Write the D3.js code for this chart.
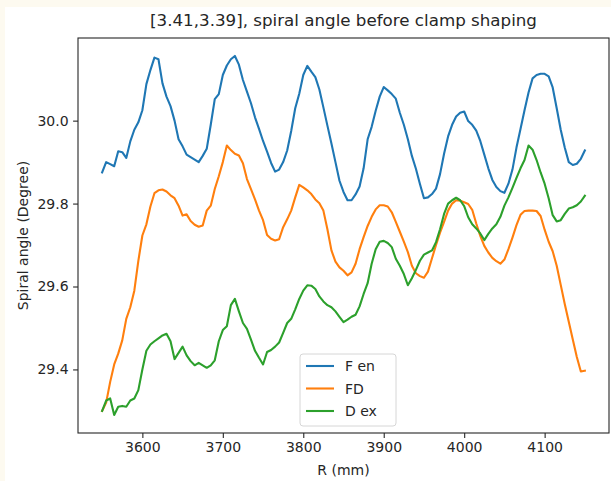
<!DOCTYPE html>
<html>
<head>
<meta charset="utf-8">
<script src="https://cdn.jsdelivr.net/npm/d3@7"></script>
<style>
  html, body { margin: 0; padding: 0; background: #fdfaf0; }
  svg { display: block; }
  text { font-family: "DejaVu Sans", sans-serif; fill: #262626; }
</style>
</head>
<body>
<svg id="chart" width="611" height="481"></svg>
<script>
// Radius positions (mm), sampled every 5 mm
const radius = [
  3550,3555,3560,3565,3570,3575,3580,3585,3590,3595,
  3600,3605,3610,3615,3620,3625,3630,3635,3640,3645,
  3650,3655,3660,3665,3670,3675,3680,3685,3690,3695,
  3700,3705,3710,3715,3720,3725,3730,3735,3740,3745,
  3750,3755,3760,3765,3770,3775,3780,3785,3790,3795,
  3800,3805,3810,3815,3820,3825,3830,3835,3840,3845,
  3850,3855,3860,3865,3870,3875,3880,3885,3890,3895,
  3900,3905,3910,3915,3920,3925,3930,3935,3940,3945,
  3950,3955,3960,3965,3970,3975,3980,3985,3990,3995,
  4000,4005,4010,4015,4020,4025,4030,4035,4040,4045,
  4050,4055,4060,4065,4070,4075,4080,4085,4090,4095,
  4100,4105,4110,4115,4120,4125,4130,4135,4140,4145,
  4150
];

// Spiral angle (degree) for each section
const fEn = [
  29.875,29.900,29.895,29.890,29.926,29.924,29.910,29.950,29.978,29.996,
  30.025,30.088,30.122,30.152,30.148,30.090,30.058,30.035,30.000,29.955,
  29.938,29.918,29.912,29.906,29.900,29.915,29.932,29.990,30.052,30.064,
  30.110,30.133,30.148,30.156,30.135,30.098,30.070,30.042,30.008,29.980,
  29.951,29.925,29.898,29.877,29.882,29.900,29.928,29.975,30.030,30.065,
  30.110,30.132,30.118,30.105,30.075,30.032,29.988,29.945,29.900,29.855,
  29.828,29.808,29.808,29.822,29.841,29.885,29.955,29.985,30.024,30.058,
  30.081,30.073,30.064,30.053,30.019,29.990,29.955,29.915,29.884,29.847,
  29.813,29.815,29.823,29.836,29.871,29.920,29.962,29.990,30.010,30.019,
  30.022,29.999,29.990,29.976,29.951,29.918,29.885,29.857,29.840,29.830,
  29.826,29.848,29.882,29.935,29.980,30.025,30.068,30.102,30.110,30.113,
  30.113,30.107,30.080,30.030,29.978,29.935,29.900,29.893,29.896,29.908,
  29.928
];

const fd = [
  29.300,29.320,29.370,29.412,29.438,29.470,29.522,29.550,29.590,29.662,
  29.723,29.750,29.793,29.825,29.832,29.834,29.829,29.820,29.813,29.795,
  29.771,29.774,29.758,29.749,29.744,29.747,29.783,29.795,29.835,29.866,
  29.900,29.940,29.929,29.920,29.916,29.897,29.859,29.835,29.810,29.783,
  29.760,29.724,29.715,29.711,29.714,29.743,29.762,29.783,29.815,29.845,
  29.839,29.832,29.823,29.810,29.801,29.783,29.738,29.687,29.660,29.646,
  29.638,29.627,29.634,29.655,29.690,29.719,29.746,29.768,29.786,29.796,
  29.796,29.793,29.779,29.756,29.732,29.708,29.683,29.650,29.632,29.625,
  29.621,29.636,29.668,29.700,29.730,29.756,29.783,29.800,29.808,29.807,
  29.803,29.799,29.785,29.752,29.722,29.698,29.682,29.669,29.661,29.655,
  29.665,29.690,29.718,29.748,29.773,29.782,29.783,29.783,29.782,29.770,
  29.737,29.708,29.685,29.650,29.604,29.558,29.515,29.472,29.430,29.395,
  29.397
];

const dEx = [
  29.300,29.325,29.330,29.290,29.310,29.312,29.310,29.325,29.330,29.350,
  29.400,29.445,29.460,29.468,29.475,29.482,29.486,29.468,29.425,29.440,
  29.455,29.434,29.420,29.410,29.416,29.410,29.404,29.410,29.422,29.468,
  29.495,29.504,29.555,29.570,29.540,29.512,29.498,29.472,29.445,29.428,
  29.412,29.442,29.447,29.455,29.465,29.488,29.512,29.522,29.545,29.570,
  29.590,29.603,29.602,29.594,29.576,29.564,29.555,29.550,29.540,29.527,
  29.514,29.520,29.527,29.532,29.552,29.582,29.608,29.655,29.690,29.708,
  29.710,29.705,29.695,29.667,29.650,29.630,29.603,29.620,29.640,29.662,
  29.677,29.682,29.687,29.707,29.738,29.775,29.800,29.808,29.814,29.808,
  29.794,29.767,29.750,29.740,29.728,29.712,29.727,29.740,29.750,29.768,
  29.795,29.815,29.838,29.862,29.885,29.905,29.940,29.930,29.905,29.875,
  29.848,29.813,29.772,29.757,29.760,29.775,29.788,29.791,29.796,29.805,
  29.819
];

const seriesNames = ["F en", "FD", "D ex"];
const seriesColors = ["#1f77b4", "#ff7f0e", "#2ca02c"];
const xTicks = [3600, 3700, 3800, 3900, 4000, 4100];
const yTicks = [29.4, 29.6, 29.8, 30.0];
const titleText = "[3.41,3.39], spiral angle before clamp shaping";
const xLabel = "R (mm)";
const yLabel = "Spiral angle (Degree)";

const series = [fEn, fd, dEx].map((vals, i) => ({
  name: seriesNames[i],
  color: seriesColors[i],
  points: vals.map((v, j) => ({ r: radius[j], v }))
}));

const svg = d3.select("#chart");
const plot = { left: 78, right: 609, top: 38, bottom: 433 };

// figure background
svg.append("rect").attr("x", 5).attr("y", 7)
  .attr("width", 606).attr("height", 474).attr("fill", "#ffffff");

// scales with 5% padding around the data extent
const xMin = d3.min(radius), xMax = d3.max(radius);
const xPad = (xMax - xMin) * 0.05;
const allVals = fEn.concat(fd, dEx);
const yMin = d3.min(allVals), yMax = d3.max(allVals);
const yPad = (yMax - yMin) * 0.05;

const x = d3.scaleLinear().domain([xMin - xPad, xMax + xPad]).range([plot.left, plot.right]);
const y = d3.scaleLinear().domain([yMin - yPad, yMax + yPad]).range([plot.bottom, plot.top]);

// lines
const line = d3.line().x(d => x(d.r)).y(d => y(d.v));
svg.append("g").selectAll("path").data(series).join("path")
  .attr("d", d => line(d.points))
  .attr("fill", "none")
  .attr("stroke", d => d.color)
  .attr("stroke-width", 2.1)
  .attr("stroke-linejoin", "round")
  .attr("stroke-linecap", "square");

// axes
const xAxis = svg.append("g")
  .attr("transform", `translate(0,${plot.bottom})`)
  .call(d3.axisBottom(x).tickValues(xTicks).tickFormat(d3.format("d"))
    .tickSize(4.9).tickPadding(4.5));
const yAxis = svg.append("g")
  .attr("transform", `translate(${plot.left},0)`)
  .call(d3.axisLeft(y).tickValues(yTicks).tickFormat(d3.format(".1f"))
    .tickSize(4.9).tickPadding(4.5));

[xAxis, yAxis].forEach(g => {
  g.select(".domain").remove();
  g.selectAll(".tick line").attr("stroke", "#262626").attr("stroke-width", 1.1);
  g.selectAll(".tick text").attr("font-size", 14).attr("fill", "#262626")
    .attr("font-family", "DejaVu Sans, sans-serif");
});

// plot frame
svg.append("rect")
  .attr("x", plot.left).attr("y", plot.top)
  .attr("width", plot.right - plot.left).attr("height", plot.bottom - plot.top)
  .attr("fill", "none").attr("stroke", "#262626").attr("stroke-width", 1.1);

// title and axis labels
svg.append("text")
  .attr("x", (plot.left + plot.right) / 2).attr("y", 26)
  .attr("text-anchor", "middle").attr("font-size", 16.7)
  .text(titleText);
svg.append("text")
  .attr("x", (plot.left + plot.right) / 2).attr("y", 475)
  .attr("text-anchor", "middle").attr("font-size", 14)
  .text(xLabel);
svg.append("text")
  .attr("transform", `translate(28,${(plot.top + plot.bottom) / 2}) rotate(-90)`)
  .attr("text-anchor", "middle").attr("font-size", 14)
  .text(yLabel);

// legend
const legend = svg.append("g").attr("transform", "translate(300,354)");
legend.append("rect")
  .attr("x", 0).attr("y", 0).attr("width", 96).attr("height", 72)
  .attr("rx", 3).attr("fill", "#ffffff").attr("fill-opacity", 0.8)
  .attr("stroke", "#d6d6d6").attr("stroke-width", 1);
const rows = legend.selectAll("g.row").data(series).join("g")
  .attr("class", "row")
  .attr("transform", (d, i) => `translate(0,${12 + i * 22.5})`);
rows.append("line")
  .attr("x1", 6).attr("x2", 34).attr("y1", 0).attr("y2", 0)
  .attr("stroke", d => d.color).attr("stroke-width", 2.1);
rows.append("text")
  .attr("x", 45).attr("y", 5).attr("font-size", 14)
  .text(d => d.name);
</script>
</body>
</html>
